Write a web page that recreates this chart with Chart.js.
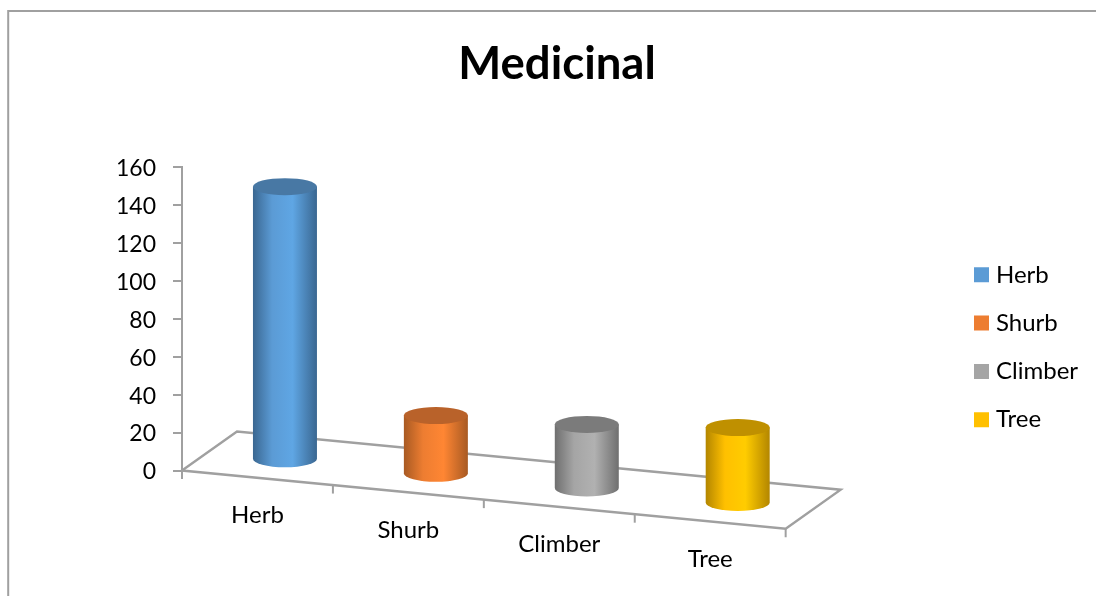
<!DOCTYPE html>
<html>
<head>
<meta charset="utf-8">
<style>
  html, body { margin: 0; padding: 0; background: #fff; }
  canvas { display: block; }
</style>
<script src="https://cdn.jsdelivr.net/npm/chart.js@4"></script>
</head>
<body>
<canvas id="chart0" width="1096" height="596"></canvas>
<script>
  const categories = ["Herb", "Shurb", "Climber", "Tree"];
  const values = [144, 31, 34, 40];
  const yMax = 160;
  const yStep = 20;
  const titleText = "Medicinal";

  // flat colour (legend), then the cylinder shading
  const legendColors = ["#5b9bd5", "#ed7d31", "#a5a5a5", "#ffc000"];
  const sideLight = ["#5fa6e4", "#ff8633", "#b1b1b1", "#ffcc00"];
  const sideDark = ["#3a6791", "#a85a23", "#6f6f6f", "#b38600"];
  const capColors = ["#4878a4", "#b9622a", "#7b7b7b", "#bf9000"];

  const fontFamily = "Lato, Carlito, sans-serif";
  const lineColor = "#a0a0a0";

  // floor of the fake 3D box
  const depthX = 55;
  const depthY = 39;
  const floorSlope = 0.0965;
  const capRadius = 8.5;
  const barDrop = 1.5;

  const scene = {
    id: "scene",
    afterLayout(chart) {
      // legend sits lower than the plot middle in the reference
      const legend = chart.legend;
      legend.left = 954.7;
      legend.right = 1096;
      legend.top = 238.5;
      legend.bottom = 520;
      // title is centred over the whole frame, not the plot
      chart.titleBlock.left = 457;
      chart.titleBlock.right = 657;
    },
    beforeDatasetsDraw(chart) {
      const ctx = chart.ctx;
      const area = chart.chartArea;
      const slopeY = (area.right - area.left) * floorSlope;
      const x0 = area.left, y0 = area.bottom;
      const x1 = area.right, y1 = area.bottom + slopeY;

      ctx.save();
      // outer frame, only top and left are visible
      ctx.strokeStyle = lineColor;
      ctx.lineWidth = 2;
      ctx.beginPath();
      ctx.moveTo(8.2, 596);
      ctx.lineTo(8.2, 11);
      ctx.lineTo(1096, 11);
      ctx.stroke();

      ctx.lineWidth = 2.4;
      ctx.beginPath();
      ctx.moveTo(x0, y0);
      ctx.lineTo(x0 + depthX, y0 - depthY);
      ctx.lineTo(x1 + depthX, y1 - depthY);
      ctx.lineTo(x1, y1);
      ctx.closePath();
      ctx.stroke();

      // x ticks on the front edge
      ctx.lineWidth = 2;
      const bandWidth = (x1 - x0) / categories.length;
      for (let i = 0; i <= categories.length; ++i) {
        const tx = x0 + i * bandWidth;
        const ty = y0 + i * bandWidth * floorSlope;
        ctx.beginPath();
        ctx.moveTo(tx, ty);
        ctx.lineTo(tx, ty + 8.5);
        ctx.stroke();
      }

      ctx.fillStyle = "#000";
      ctx.font = "24px " + fontFamily;
      ctx.textAlign = "center";
      ctx.textBaseline = "alphabetic";
      categories.forEach((name, i) => {
        const cx = chart.scales.x.getPixelForTick(i);
        ctx.fillText(name, cx, y0 + (cx - x0) * floorSlope + 45.5);
      });
      ctx.restore();
    },
    beforeDatasetDraw(chart, args) {
      const ctx = chart.ctx;
      const area = chart.chartArea;
      args.meta.data.forEach((bar, i) => {
        const cx = bar.x + depthX / 2;
        const shift = (bar.x - area.left) * floorSlope - depthY / 2 + barDrop;
        const baseY = bar.base + shift;
        const topY = bar.y + shift;
        const rx = bar.width / 2;

        const grad = ctx.createLinearGradient(cx - rx, 0, cx + rx, 0);
        grad.addColorStop(0, sideDark[i]);
        grad.addColorStop(0.3, legendColors[i]);
        grad.addColorStop(0.62, sideLight[i]);
        grad.addColorStop(1, sideDark[i]);

        ctx.save();
        ctx.fillStyle = grad;
        ctx.beginPath();
        ctx.moveTo(cx - rx, topY);
        ctx.lineTo(cx - rx, baseY);
        ctx.ellipse(cx, baseY, rx, capRadius, 0, Math.PI, 0, true);
        ctx.lineTo(cx + rx, topY);
        ctx.closePath();
        ctx.fill();

        ctx.fillStyle = capColors[i];
        ctx.beginPath();
        ctx.ellipse(cx, topY, rx, capRadius, 0, 0, Math.PI * 2);
        ctx.fill();
        ctx.restore();
      });
      return false;
    }
  };

  new Chart(document.getElementById("chart0").getContext("2d"), {
    type: "bar",
    data: {
      labels: categories,
      datasets: [{
        label: titleText,
        data: values,
        backgroundColor: legendColors,
        barPercentage: 0.424,
        categoryPercentage: 1
      }]
    },
    plugins: [scene],
    options: {
      responsive: false,
      animation: false,
      layout: { padding: { left: 18, right: 177, top: 0, bottom: 0 } },
      plugins: {
        tooltip: { enabled: false },
        title: {
          display: true,
          text: titleText,
          color: "#000",
          font: { family: fontFamily, size: 45.5, weight: "bold" },
          padding: { top: 37, bottom: 75.4 }
        },
        legend: {
          position: "right",
          align: "start",
          onClick: null,
          labels: {
            color: "#000",
            font: { family: fontFamily, size: 24 },
            boxWidth: 5,
            boxHeight: 5,
            padding: 24.3,
            generateLabels: () => categories.map((name, i) => ({
              text: name,
              fillStyle: legendColors[i],
              strokeStyle: legendColors[i],
              lineWidth: 10,
              index: i
            }))
          }
        }
      },
      scales: {
        x: {
          grid: { display: false },
          border: { display: false },
          ticks: { display: false },
          afterFit(scale) { scale.height = 125.5; }
        },
        y: {
          min: 0,
          max: yMax,
          ticks: {
            stepSize: yStep,
            padding: 17,
            labelOffset: 1.5,
            color: "#000",
            font: { family: fontFamily, size: 23 }
          },
          grid: { drawOnChartArea: false, color: lineColor, lineWidth: 2, tickLength: 9 },
          border: { color: lineColor, width: 2 },
          afterFit(scale) { scale.width = 164; }
        }
      }
    }
  });
</script>
</body>
</html>
